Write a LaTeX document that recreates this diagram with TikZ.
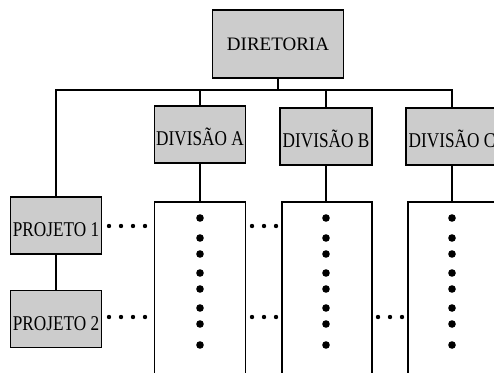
\documentclass[tikz,border=0pt]{standalone}
\usepackage{fontspec}
\setmainfont{Liberation Serif}
\usepackage{graphicx}
\usetikzlibrary{positioning}

\newcommand{\narrowtext}[1]{\scalebox{0.82}[1]{#1}}

\begin{document}
\begin{tikzpicture}[x=1pt,y=-1pt,line width=1.3pt,
  unit/.style={draw,line width=1.6pt,fill=black!20,inner sep=0pt,minimum width=91pt,minimum height=57pt,font=\fontsize{21}{21}\selectfont,text height=22pt,text depth=0pt},
  column/.style={draw,line width=1.5pt,inner sep=0pt,minimum width=91pt,minimum height=220pt,anchor=north}]
\clip (0,0) rectangle (494,372);
\node[unit,minimum width=131pt,minimum height=68pt,font=\fontsize{19}{19}\selectfont,text height=13pt] (dir) at (278,44) {DIRETORIA};
\node[unit] (divA) at (200,134.5) {\narrowtext{DIVISÃO A}};
\node[unit,minimum width=92pt] (divB) at (326,136.5) {\narrowtext{DIVISÃO B}};
\node[unit,minimum width=92pt] (divC) at (452,136.5) {\narrowtext{DIVISÃO C}};
\node[unit] (proj1) at (56,225.5) {\narrowtext{PROJETO 1}};
\node[unit] (proj2) [below=35pt of proj1] {\narrowtext{PROJETO 2}};
\node[column] (colA) at (200,201) {};
\node[column,minimum width=90pt] (colB) at (327,201) {};
\node[column,minimum width=90pt] (colC) at (453,201) {};
\coordinate (busy) at (0,90);
\path[draw]
    (dir) -- (dir |- busy)
    (proj1) |- (dir |- busy) -| (divC)
    (divA) -- (divA |- busy)
    (divB) -- (divB |- busy)
    (divA) -- (colA)
    (divB) -- (divB |- colB.north)
    (divC) -- (divC |- colC.north)
    (proj1) -- (proj2)
;
% pontos
\foreach \x in {200,326,452}
  \foreach \y in {218,238,254,273,289,308,324,345}
    \fill (\x,\y) circle (3.8pt);
\foreach \x in {109,121,133,145,252,264,276}
  \fill (\x,226) circle (2.2pt);
\foreach \x in {109,121,133,145,252,264,276,378,390,402}
  \fill (\x,317) circle (2.2pt);
\end{tikzpicture}
\end{document}
